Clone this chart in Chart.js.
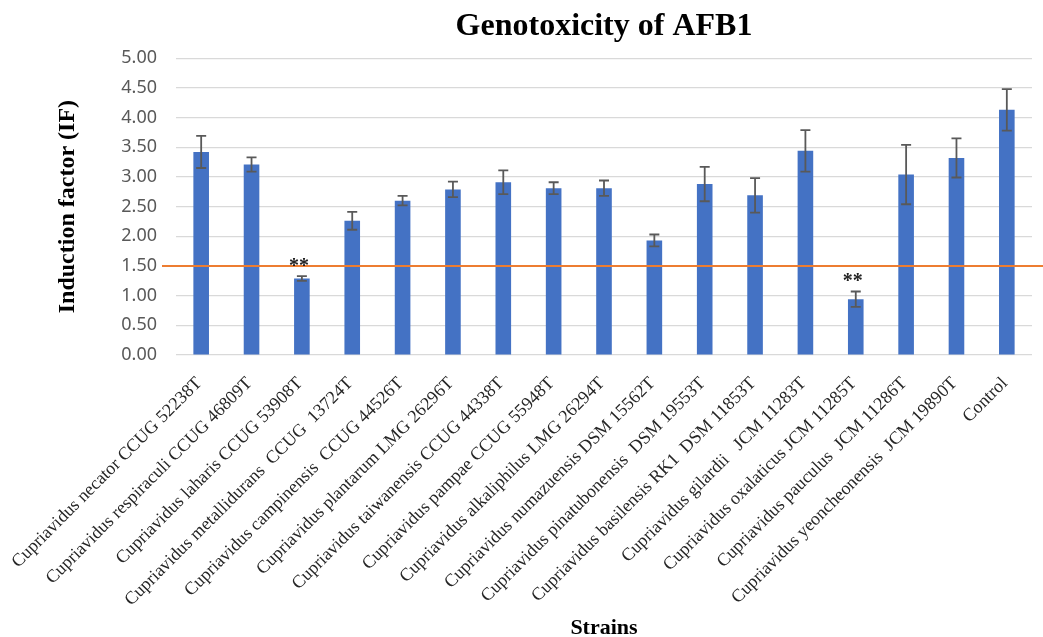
<!DOCTYPE html>
<html lang="en">
<head>
    <meta charset="UTF-8">
    <title>Genotoxicity of AFB1</title>
    <script src="https://cdn.jsdelivr.net/npm/chart.js"></script>
    <style>
        body {
            margin: 0;
            background: #fff;
        }
        .my-box {
            width: 1043px;
            height: 637px;
        }
    </style>
</head>
<body>
    <div class="my-box">
        <canvas id="afbChart"></canvas>
    </div>
    <script>
    // strains on the x axis
    const strains = [
      'Cupriavidus necator CCUG 52238T',
      'Cupriavidus respiraculi CCUG 46809T',
      'Cupriavidus laharis CCUG 53908T',
      'Cupriavidus metallidurans  CCUG  13724T',
      'Cupriavidus campinensis  CCUG 44526T',
      'Cupriavidus plantarum LMG 26296T',
      'Cupriavidus taiwanensis CCUG 44338T',
      'Cupriavidus pampae CCUG 55948T',
      'Cupriavidus alkaliphilus LMG 26294T',
      'Cupriavidus numazuensis DSM 15562T',
      'Cupriavidus pinatubonensis  DSM 19553T',
      'Cupriavidus basilensis RK1  DSM 11853T',
      'Cupriavidus gilardii   JCM 11283T',
      'Cupriavidus oxalaticus JCM 11285T',
      'Cupriavidus pauculus  JCM 11286T',
      'Cupriavidus yeoncheonensis  JCM 19890T',
      'Control'
    ];

    // induction factor (mean) and error bar (+/-)
    const inductionFactor = [3.42, 3.21, 1.29, 2.26, 2.60, 2.79, 2.91, 2.81, 2.81, 1.93, 2.88, 2.69, 3.44, 0.94, 3.04, 3.32, 4.13];
    const errorValues     = [0.27, 0.12, 0.04, 0.15, 0.08, 0.13, 0.20, 0.10, 0.13, 0.10, 0.29, 0.29, 0.35, 0.13, 0.50, 0.33, 0.35];
    const significance    = ['', '', '**', '', '', '', '', '', '', '', '', '', '', '**', '', '', ''];
    const threshold = 1.5;
    const yTicks = { min: 0, max: 5, step: 0.5 };

    const extrasPlugin = {
      id: 'extras',
      afterDatasetsDraw(chart) {
        const ctx = chart.ctx;
        const y = chart.scales.y;
        const area = chart.chartArea;
        const bars = chart.getDatasetMeta(0).data;

        // threshold line
        ctx.save();
        ctx.strokeStyle = '#ED7D31';
        ctx.lineWidth = 2;
        ctx.beginPath();
        const ty = y.getPixelForValue(threshold);
        ctx.moveTo(area.left - 14, ty);
        ctx.lineTo(chart.width, ty);
        ctx.stroke();

        // error bars + significance stars
        ctx.strokeStyle = '#595959';
        ctx.lineWidth = 1.8;
        bars.forEach((bar, i) => {
          const top = y.getPixelForValue(inductionFactor[i] + errorValues[i]);
          const bot = y.getPixelForValue(inductionFactor[i] - errorValues[i]);
          ctx.beginPath();
          ctx.moveTo(bar.x, top);
          ctx.lineTo(bar.x, bot);
          ctx.moveTo(bar.x - 5, top);
          ctx.lineTo(bar.x + 5, top);
          ctx.moveTo(bar.x - 5, bot);
          ctx.lineTo(bar.x + 5, bot);
          ctx.stroke();
          if (significance[i]) {
            ctx.fillStyle = '#222';
            ctx.font = 'bold 20px "Liberation Serif"';
            ctx.textAlign = 'center';
            ctx.textBaseline = 'alphabetic';
            ctx.fillText(significance[i], bar.x - 3, top - 4);
          }
        });
        ctx.restore();
      }
    };

    const ctx = document.getElementById('afbChart').getContext('2d');
    const chart = new Chart(ctx, {
      type: 'bar',
      data: {
        labels: strains,
        datasets: [{
          label: 'Induction factor',
          data: inductionFactor,
          backgroundColor: '#4472C4',
          categoryPercentage: 1,
          barPercentage: 0.31
        }]
      },
      options: {
        responsive: true,
        maintainAspectRatio: false,
        animation: false,
        layout: { padding: { left: 49, right: 11, top: 0, bottom: 0 } },
        plugins: {
          legend: { display: false },
          tooltip: { enabled: false },
          title: {
            display: true,
            text: 'Genotoxicity of AFB1',
            fullSize: false,
            color: '#000',
            font: { family: '"Liberation Serif"', size: 32, weight: 'bold', lineHeight: 1.1 },
            padding: { top: 9, bottom: 14 }
          }
        },
        scales: {
          x: {
            grid: { display: false },
            border: { display: false },
            ticks: {
              autoSkip: false,
              maxRotation: 45,
              minRotation: 45,
              labelOffset: -2,
              padding: 10,
              color: '#262626',
              font: { family: '"Liberation Serif"', size: 18 }
            },
            title: {
              display: true,
              text: 'Strains',
              color: '#000',
              font: { family: '"Liberation Serif"', size: 22, weight: 'bold', lineHeight: 0.75 },
              padding: 0
            },
            afterFit(scale) { scale.height = 282; }
          },
          y: {
            min: yTicks.min,
            max: yTicks.max,
            grid: { color: '#d9d9d9', lineWidth: 1.2, drawTicks: false },
            border: { display: false },
            ticks: {
              stepSize: yTicks.step,
              padding: 19,
              color: '#595959',
              font: { family: '"Noto Sans"', size: 18 },
              callback: v => v.toFixed(2)
            },
            title: {
              display: true,
              text: 'Induction factor (IF)',
              color: '#000',
              font: { family: '"Liberation Serif"', size: 24, weight: 'bold' },
              padding: { top: 4, bottom: 0 }
            },
            afterFit(scale) { scale.width = 127; }
          }
        }
      },
      plugins: [extrasPlugin]
    });
  </script>
</body>
</html>
